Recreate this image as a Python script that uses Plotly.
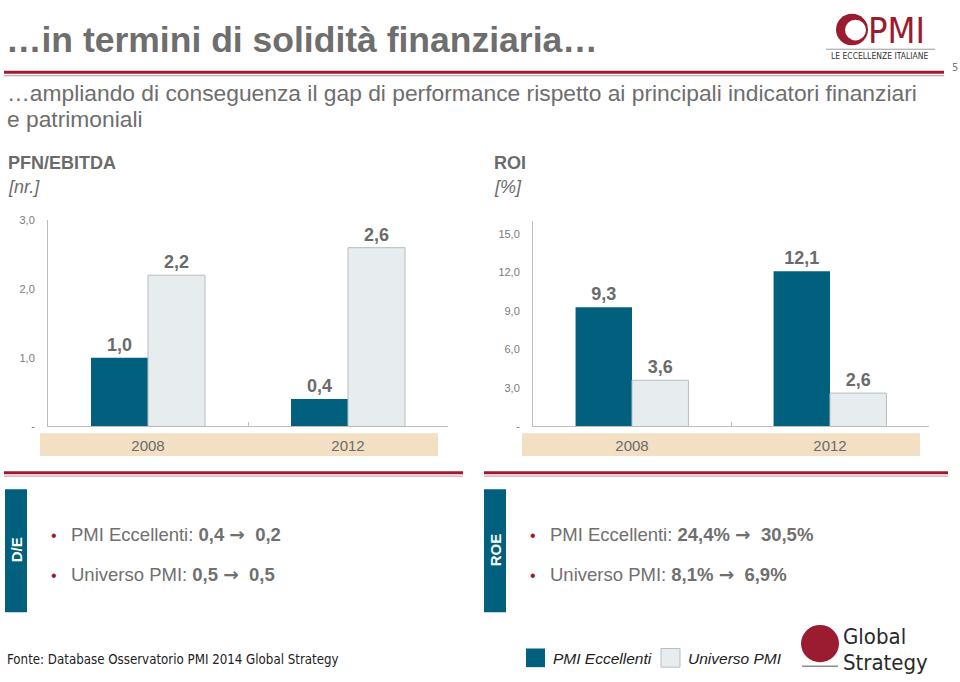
import plotly.graph_objects as go

# ---------------- data ----------------
years = ["2008", "2012"]
pfn_eccellenti = [1.0, 0.4]
pfn_universo = [2.2, 2.6]
roi_eccellenti = [9.3, 12.1]
roi_universo = [3.6, 2.6]
pfn_ticks = [0, 1, 2, 3]
pfn_ticktext = ["-", "1,0", "2,0", "3,0"]
roi_ticks = [0, 3, 6, 9, 12, 15]
roi_ticktext = ["-", "3,0", "6,0", "9,0", "12,0", "15,0"]
series_names = ["PMI Eccellenti", "Universo PMI"]

W, H = 960, 682
DARK = "#02607f"
LIGHT = "#e7ecef"
LIGHT_LINE = "#b9bdbf"
GRAY = "#6b6b6b"
RED = "#9b1b30"
BEIGE = "#f3dfc4"
ARIAL = "Liberation Sans, Arial, sans-serif"
COND = "DejaVu Sans Condensed, Liberation Sans, sans-serif"
ARROW = "<span style='font-family:DejaVu Sans'>→</span>"


def px(x):
    return x / W


def py(y):
    return 1 - y / H


fig = go.Figure()

label_font = dict(family=ARIAL, size=18, color=GRAY)
for xa, ya, dvals, lvals in [("x", "y", pfn_eccellenti, pfn_universo),
                             ("x2", "y2", roi_eccellenti, roi_universo)]:
    fig.add_trace(go.Bar(x=years, y=dvals, name=series_names[0], xaxis=xa, yaxis=ya,
                         marker=dict(color=DARK, line=dict(color=DARK, width=0)),
                         texttemplate="<b>%{y:.1f}</b>", textposition="outside",
                         textfont=label_font, cliponaxis=False, showlegend=False))
    fig.add_trace(go.Bar(x=years, y=lvals, name=series_names[1], xaxis=xa, yaxis=ya,
                         marker=dict(color=LIGHT, line=dict(color=LIGHT_LINE, width=1)),
                         texttemplate="<b>%{y:.1f}</b>", textposition="outside",
                         textfont=label_font, cliponaxis=False, showlegend=False))

axis_common_x = dict(type="category", showline=True, linecolor="#bdbdbd", linewidth=1,
                     ticks="inside", ticklen=4, tickcolor="#bdbdbd", tickson="boundaries",
                     showgrid=False, zeroline=False,
                     tickfont=dict(family=ARIAL, size=15, color=GRAY), ticklabelstandoff=6,
                     fixedrange=True)
axis_common_y = dict(showline=True, linecolor="#bdbdbd", linewidth=1, ticks="",
                     showgrid=False, zeroline=False,
                     tickfont=dict(family=ARIAL, size=11, color="#7a7a7a"), ticklabelstandoff=10,
                     fixedrange=True)

shapes = []
annotations = []


def note(text, x, y, size, color, family=ARIAL, xanchor="left", **kw):
    annotations.append(dict(text=text, x=px(x), y=py(y), xref="paper", yref="paper",
                            xanchor=xanchor, yanchor="middle", showarrow=False,
                            font=dict(family=family, size=size, color=color), **kw))


# beige year bands
for x0, x1 in [(40, 438), (522, 920)]:
    shapes.append(dict(type="rect", xref="paper", yref="paper", x0=px(x0), x1=px(x1),
                       y0=py(458), y1=py(435), fillcolor=BEIGE, line=dict(width=0), layer="below"))

# title + red line
note("<b>…in termini di solidità finanziaria…</b>", 4, 35, 35.5, "#6e6e6e")
shapes.append(dict(type="line", xref="paper", yref="paper", x0=px(4), x1=px(944), y0=py(67.5), y1=py(67.5),
                   line=dict(color=RED, width=3)))
shapes.append(dict(type="line", xref="paper", yref="paper", x0=px(4), x1=px(944), y0=py(71), y1=py(71),
                   line=dict(color="#d58a96", width=1)))
note("5", 955, 63, 11, "#777777", family=COND, xanchor="center")

# subtitle
note("…ampliando di conseguenza il gap di performance rispetto ai principali indicatori finanziari",
     5, 89, 22.8, "#6e6e6e")
note("e patrimoniali", 5, 115, 22.8, "#6e6e6e")

# chart titles
for x0, t1, t2 in [(6, "PFN/EBITDA", "[nr.]"), (492, "ROI", "[%]")]:
    note(f"<b>{t1}</b>", x0, 160, 18, GRAY)
    note(f"<i>{t2}</i>", x0, 184, 18, GRAY)

# separator double red lines
for x0, x1 in [(4, 463), (484, 948)]:
    shapes.append(dict(type="line", xref="paper", yref="paper", x0=px(x0), x1=px(x1), y0=py(475), y1=py(475),
                       line=dict(color=RED, width=3)))
    shapes.append(dict(type="line", xref="paper", yref="paper", x0=px(x0), x1=px(x1), y0=py(478.5), y1=py(478.5),
                       line=dict(color="#d58a96", width=1)))

# bottom boxes
boxes = [
    (5, 27, "D/E", [f"PMI Eccellenti: <b>0,4 {ARROW}  0,2</b>", f"Universo PMI: <b>0,5 {ARROW}  0,5</b>"]),
    (484, 506, "ROE", [f"PMI Eccellenti: <b>24,4% {ARROW}  30,5%</b>", f"Universo PMI: <b>8,1% {ARROW}  6,9%</b>"]),
]
for x0, x1, lab, lines in boxes:
    shapes.append(dict(type="rect", xref="paper", yref="paper", x0=px(x0), x1=px(x1), y0=py(617), y1=py(492),
                       fillcolor=DARK, line=dict(width=0)))
    note(f"<b>{lab}</b>", (x0 + x1) / 2, 554, 15, "white", xanchor="center", textangle=-90)
    for ln, yy in zip(lines, [536, 577]):
        note("•", x1 + 27, yy + 3, 16, RED, xanchor="center")
        note(ln, x1 + 42, yy + 2, 18.5, "#707070")

# footer
note("Fonte: Database Osservatorio PMI 2014 Global Strategy", 5, 665, 13.2, "#222222", family=COND)

# legend (manual)
shapes.append(dict(type="rect", xref="paper", yref="paper", x0=px(526), x1=px(545), y0=py(673), y1=py(654),
                   fillcolor=DARK, line=dict(width=0)))
shapes.append(dict(type="rect", xref="paper", yref="paper", x0=px(661), x1=px(680), y0=py(673), y1=py(654),
                   fillcolor=LIGHT, line=dict(color=LIGHT_LINE, width=1)))
note(f"<i>{series_names[0]}</i>", 551, 664, 15.5, "#222222")
note(f"<i>{series_names[1]}</i>", 686, 664, 15.5, "#222222")

# PMI logo (approximation)
shapes.append(dict(type="circle", xref="paper", yref="paper", x0=px(836), x1=px(868), y0=py(40), y1=py(8),
                   fillcolor=RED, line=dict(width=0)))
shapes.append(dict(type="circle", xref="paper", yref="paper", x0=px(845), x1=px(866), y0=py(35), y1=py(14),
                   fillcolor="white", line=dict(width=0)))
note("PMI", 866, 25, 36, RED, family=COND)
shapes.append(dict(type="line", xref="paper", yref="paper", x0=px(826), x1=px(935), y0=py(44), y1=py(44),
                   line=dict(color="#9a9a9a", width=1)))
note("LE ECCELLENZE ITALIANE", 879, 51, 8.5, "#333333", family=COND, xanchor="center")

# Global Strategy logo (approximation)
shapes.append(dict(type="circle", xref="paper", yref="paper", x0=px(801), x1=px(839), y0=py(668), y1=py(630),
                   fillcolor=RED, line=dict(width=0)))
shapes.append(dict(type="line", xref="paper", yref="paper", x0=px(802), x1=px(838), y0=py(672), y1=py(672),
                   line=dict(color="#555555", width=1)))
note("Global", 841, 642, 22, "#2a2a2a", family=COND)
note("Strategy", 841, 668, 22, "#2a2a2a", family=COND)

fig.update_layout(
    width=W, height=H,
    margin=dict(l=0, r=0, t=0, b=0),
    paper_bgcolor="white", plot_bgcolor="rgba(0,0,0,0)",
    separators=",.",
    barmode="group", bargap=0.43, bargroupgap=0,
    showlegend=False,
    xaxis=dict(domain=[px(48), px(448)], anchor="y", **axis_common_x),
    yaxis=dict(domain=[py(428), py(218)], anchor="x", range=[0, 3.0],
               tickvals=pfn_ticks, ticktext=pfn_ticktext, **axis_common_y),
    xaxis2=dict(domain=[px(533), px(929)], anchor="y2", **axis_common_x),
    yaxis2=dict(domain=[py(428), py(219)], anchor="x2", range=[0, 16],
                tickvals=roi_ticks, ticktext=roi_ticktext, **axis_common_y),
    shapes=shapes,
    annotations=annotations,
)

fig.write_html("out.html", config={"displayModeBar": False},
               post_script="document.body.style.margin='0';document.body.style.overflow='hidden';")
